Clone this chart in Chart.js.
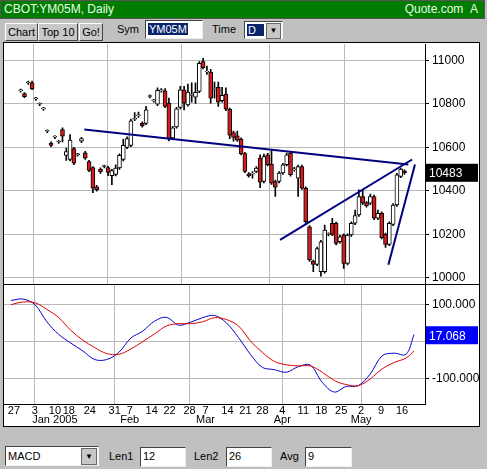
<!DOCTYPE html>
<html><head><meta charset="utf-8">
<script src="https://cdn.jsdelivr.net/npm/chart.js@4"></script>
<style>
body{margin:0;width:487px;height:469px;background:#c0c0c0;font-family:"Liberation Sans",Arial,sans-serif;position:relative;overflow:hidden}
.abs{position:absolute}
#title{left:0;top:0;width:483px;height:17px;background:#007c00;color:#e8ffe8;font-size:12px;line-height:17px;border:1px solid #555}
.btn{top:23px;height:16px;background:#c8c8c8;border:1px solid;border-color:#fff #444 #444 #fff;font-size:11px;line-height:16px;text-align:center}
.box{background:#fff;border:1px solid;border-color:#444 #eee #eee #444;font-size:11px;line-height:17px;padding-left:2px;box-sizing:border-box}
.lbl{font-size:11px}
#chartbox{left:3px;top:42px;width:477px;height:385px;background:#fff;border:1px solid #000;box-sizing:border-box}
.clip{position:absolute;overflow:hidden}
</style></head><body>
<div id="title" class="abs"><span style="margin-left:3px">CBOT:YM05M, Daily</span><span style="position:absolute;right:6px">Quote.com&nbsp;&nbsp;A</span></div>
<div class="abs btn" style="left:5px;width:31px">Chart</div>
<div class="abs btn" style="left:38px;width:38px">Top 10</div>
<div class="abs btn" style="left:79px;width:22px">Go!</div>
<div class="abs lbl" style="left:117px;top:23px">Sym</div>
<div class="abs box" style="left:145px;top:20px;width:58px;height:19px"><span style="background:#0a246a;color:#fff;padding:0 1px">YM05M</span></div>
<div class="abs lbl" style="left:212px;top:23px">Time</div>
<div class="abs box" style="left:244px;top:21px;width:39px;height:18px"><span style="background:#0a246a;color:#fff;padding:0 8px 0 1px;outline:1px dotted #fff">D</span><span style="position:absolute;right:1px;top:1px;width:13px;height:14px;background:#c8c8c8;border:1px solid #666;font-size:8px;line-height:14px;text-align:center">▼</span></div>
<div id="chartbox" class="abs"></div>
<div class="clip" style="left:4px;top:43px;width:475px;height:242px"><div class="abs" style="left:0;top:-9px;width:475px;height:263px"><canvas id="c1"></canvas></div></div>
<div class="clip" style="left:4px;top:285px;width:475px;height:141px"><div class="abs" style="left:0;top:-10px;width:475px;height:151px"><canvas id="c2"></canvas></div></div>
<div class="abs box" style="left:5px;top:446px;width:94px;height:20px;line-height:18px">MACD<span style="position:absolute;right:1px;top:1px;width:14px;height:15px;background:#c8c8c8;border:1px solid #666;font-size:8px;line-height:15px;text-align:center">▼</span></div>
<div class="abs lbl" style="left:109px;top:450px">Len1</div>
<div class="abs box" style="left:140px;top:447px;width:46px;height:20px">12</div>
<div class="abs lbl" style="left:194px;top:450px">Len2</div>
<div class="abs box" style="left:226px;top:447px;width:46px;height:20px">26</div>
<div class="abs lbl" style="left:280px;top:450px">Avg</div>
<div class="abs box" style="left:305px;top:447px;width:47px;height:20px">9</div>
<script>
// ---- data ----
const opens  = [10860,10847,10896,10896,10823,10798,10777,10674,10619,10647,10625,10682,10563,10544,10594,10566,10628,10575,10535,10507,10419,10500,10512,10507,10470,10475,10505,10544,10600,10609,10729,10745,10710,10710,10834,10814,10798,10860,10860,10803,10643,10694,10783,10864,10795,10839,10831,10857,10994,10947,10946,10870,10876,10814,10845,10775,10668,10653,10637,10571,10478,10477,10489,10551,10443,10566,10523,10443,10443,10482,10520,10574,10497,10458,10512,10412,10235,10077,10062,10028,10028,10200,10251,10251,10166,10197,10066,10197,10251,10289,10374,10346,10343,10374,10274,10297,10200,10154,10246,10335,10466,10492];
const closes = [10860,10833,10896,10870,10823,10798,10777,10674,10609,10647,10625,10651,10581,10633,10527,10566,10640,10550,10494,10412,10405,10488,10512,10485,10493,10505,10563,10609,10640,10722,10729,10745,10699,10772,10834,10814,10862,10860,10788,10637,10690,10777,10864,10803,10854,10839,10853,10986,10966,10947,10826,10870,10808,10839,10775,10656,10645,10633,10571,10489,10469,10477,10505,10440,10558,10520,10435,10417,10482,10520,10566,10474,10497,10512,10412,10258,10082,10062,10135,10166,10220,10200,10200,10158,10189,10066,10197,10251,10286,10374,10343,10331,10374,10274,10297,10185,10154,10251,10335,10474,10500,10483];
const highs  = [10868,10852,10904,10904,10830,10805,10784,10681,10625,10654,10632,10690,10597,10659,10600,10573,10646,10582,10540,10512,10425,10506,10518,10513,10499,10520,10570,10637,10648,10730,10760,10762,10717,10788,10841,10821,10873,10870,10870,10826,10697,10784,10880,10880,10891,10896,10896,10994,11009,10973,10958,10900,10900,10876,10873,10780,10675,10675,10644,10577,10484,10489,10512,10566,10569,10572,10584,10449,10489,10527,10574,10580,10508,10518,10518,10418,10240,10082,10141,10173,10243,10207,10274,10257,10195,10203,10203,10258,10312,10405,10405,10351,10385,10380,10312,10303,10206,10258,10342,10481,10505,10497];
const lows   = [10853,10828,10889,10865,10816,10791,10770,10667,10603,10640,10618,10625,10540,10538,10520,10559,10622,10544,10488,10392,10399,10480,10505,10470,10428,10469,10499,10538,10594,10603,10722,10738,10693,10704,10827,10808,10792,10853,10782,10629,10637,10688,10777,10772,10789,10808,10802,10851,10960,10935,10803,10826,10788,10808,10769,10640,10628,10627,10565,10483,10463,10458,10483,10415,10437,10514,10429,10374,10437,10476,10514,10468,10490,10374,10406,10246,10076,10028,10056,10008,10022,10193,10194,10152,10160,10043,10060,10191,10245,10283,10337,10325,10337,10268,10268,10179,10140,10148,10240,10329,10460,10476];
const macdIdx    = [0,3,6,9,12,15,18,21,24,27,30,33,36,39,42,45,48,51,54,57,60,63,66,69,72,75,78,81,84,87,90,93,96,99,101];
const macdLine   = [110,114,99,53,19,-4,-25,-48,-48,-29,9,28,55,65,44,52,64,70,50,11,-34,-69,-75,-82,-67,-63,-109,-135,-120,-118,-87,-38,-31,-34,19];
const signalLine = [99,106,104,86,64,30,4,-16,-32,-34,-20,0,21,42,48,48,53,64,59,42,2,-29,-53,-62,-65,-65,-82,-104,-115,-118,-100,-73,-56,-44,-25];
const trend1 = [[16.75,10682],[102,10521]];
const trend2 = [[68.25,10175],[103,10544]];
const trend3 = [[96.75,10060],[103.75,10521]];
const tickIdx    = [0.75,6,11,14.5,19.75,26,29.75,35.25,39.75,44.75,48.75,54.25,58.75,63,68,73.25,77.75,82.75,87.75,92.75,98];
const tickLabels = [["27"],["3"],["10","Jan 2005"],["18"],["24"],["31"],["7","Feb"],["14"],["22"],["28"],["7","Mar"],["14"],["21"],["28"],["4","Apr"],["11"],["18"],["25"],["2","May"],["9"],["16"]];
const gridIdx = [6,26,44.75,68,87.75];
const priceTicks = [10000,10200,10400,10600,10800,11000];
const macdTicks = [-100,100];
const lastPrice = 10483, lastMacd = 17.068;
// ---- build ----
const FONT = {family:'"Liberation Sans",Arial,sans-serif', size:11};
Chart.defaults.font = FONT; Chart.defaults.color='#000';
const xBase = {type:'linear',min:-1.75,max:103.75,
  afterBuildTicks:a=>{a.ticks=tickIdx.map(v=>({value:v}));},
  grid:{color:c=>gridIdx.includes(c.tick&&c.tick.value)?'#b8b8b8':'rgba(0,0,0,0)',drawTicks:false},
  border:{display:false}};
const wick = opens.map((o,i)=>({x:i,y:[lows[i],highs[i]]}));
const body = opens.map((o,i)=>{const a=Math.min(o,closes[i]),b=Math.max(o,closes[i]);return {x:i,y:[a,b===a?a+4:b]};});
const bodyCol = opens.map((o,i)=>closes[i]<o?'#d41c1c':'#ffffff');
const line = (p)=>({type:'line',data:p.map(q=>({x:q[0],y:q[1]})),borderColor:'#000080',borderWidth:2,pointRadius:0,order:0});
const boxPlugin = (val,txt,bg)=>({id:'box'+txt,afterDraw(ch){const y=ch.scales.y.getPixelForValue(val);const ctx=ch.ctx;const x=ch.chartArea.right+1;ctx.save();ctx.fillStyle=bg;ctx.fillRect(x,y-9,ch.width-x-1,18);ctx.fillStyle='#fff';ctx.font='12px "Liberation Sans",Arial';ctx.textBaseline='middle';ctx.fillText(txt,x+3,y+1);ctx.restore();}});
new Chart(document.getElementById('c1'),{
  data:{datasets:[
    {type:'bar',data:wick,backgroundColor:'#000',barThickness:1,grouped:false,order:2},
    {type:'bar',data:body,backgroundColor:bodyCol,borderColor:'#000',borderWidth:1,borderSkipped:false,barThickness:4,grouped:false,order:1},
    line(trend1),line(trend2),line(trend3)]},
  options:{animation:false,responsive:true,maintainAspectRatio:false,layout:{padding:0},
    plugins:{legend:{display:false},tooltip:{enabled:false}},
    scales:{x:{...xBase,ticks:{display:false},afterFit:s=>{s.height=0;}},
      y:{position:'right',min:9959,max:11074,afterBuildTicks:a=>{a.ticks=priceTicks.map(v=>({value:v}));},
        afterFit:s=>{s.width=54;},ticks:{font:{size:12},padding:3,callback:v=>String(v)},
        grid:{color:'#b8b8b8',drawTicks:true,tickLength:4,tickColor:'#000'},border:{color:'#000'}}}},
  plugins:[boxPlugin(lastPrice,String(lastPrice),'#000')]});
new Chart(document.getElementById('c2'),{
  type:'line',
  data:{datasets:[
    {data:macdIdx.map((x,i)=>({x,y:signalLine[i]})),borderColor:'#e00000',borderWidth:1,pointRadius:0,tension:0.35},
    {data:macdIdx.map((x,i)=>({x,y:macdLine[i]})),borderColor:'#0000d0',borderWidth:1,pointRadius:0,tension:0.35}]},
  options:{animation:false,responsive:true,maintainAspectRatio:false,layout:{padding:0},
    plugins:{legend:{display:false},tooltip:{enabled:false}},
    scales:{x:{...xBase,afterFit:s=>{s.height=22;},ticks:{padding:2,autoSkip:false,maxRotation:0,font:{size:11,lineHeight:0.85},callback:(v,i)=>tickLabels[i]},
        border:{display:true,color:'#000'}},
      y:{position:'right',min:-167,max:151,afterBuildTicks:a=>{a.ticks=[-100,0,100].map(v=>({value:v}));},
        afterFit:s=>{s.width=54;},ticks:{font:{size:12},padding:3,callback:v=>macdTicks.includes(v)?v.toFixed(3):''},
        grid:{color:'#b8b8b8',tickLength:4,tickColor:'#000'},border:{color:'#000'}}}},
  plugins:[boxPlugin(lastMacd,lastMacd.toFixed(3),'#0000ff')]});
</script>
<div class="abs" style="left:3px;top:284px;width:477px;height:1px;background:#000"></div>
</body></html>
